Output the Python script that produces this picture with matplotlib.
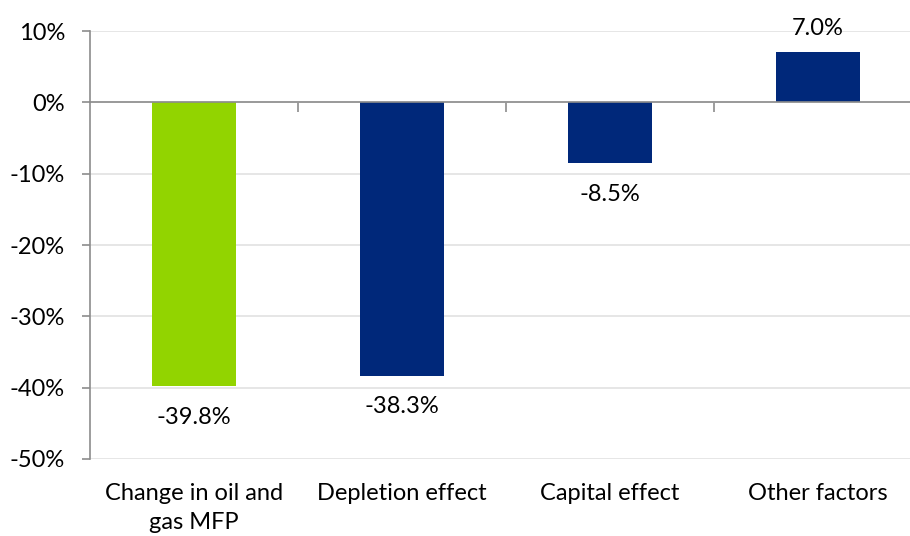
import matplotlib.pyplot as plt
from matplotlib.ticker import PercentFormatter

plt.rcParams['font.family'] = ['Lato', 'DejaVu Sans']
plt.rcParams['axes.unicode_minus'] = False

# data
categories = ['Change in oil and\ngas MFP', 'Depletion effect', 'Capital effect', 'Other factors']
values = [-39.8, -38.3, -8.5, 7.0]
colors = ['#92D400', '#00287A', '#00287A', '#00287A']
labels = ['-39.8%', '-38.3%', '-8.5%', '7.0%']

fig = plt.figure(figsize=(9.1, 5.36), dpi=100)
# axes extends a bit past the right edge, like the original crop
ax = fig.add_axes([90 / 910, 1 - 459 / 536, 832 / 910, 428 / 536])

x = range(len(categories))
ax.bar(x, values, width=0.4, color=colors, zorder=3)

ax.set_xlim(-0.5, 3.5)
ax.set_ylim(-50, 10)
ax.set_yticks(range(-50, 11, 10))
ax.yaxis.set_major_formatter(PercentFormatter(decimals=0))
ax.grid(axis='y', color='#e2e2e2', linewidth=1.2, zorder=0)

for s in ['top', 'right']:
    ax.spines[s].set_visible(False)
ax.spines['left'].set_color('#8c8c8c')
ax.spines['left'].set_linewidth(1.2)
ax.spines['bottom'].set_position(('data', 0))
ax.spines['bottom'].set_color('#8c8c8c')
ax.spines['bottom'].set_linewidth(1.2)
ax.spines['bottom'].set_zorder(4)

ax.tick_params(axis='y', length=6, width=1.2, color='#8c8c8c', pad=12,
               labelsize=17, labelcolor='black')
ax.set_xticks([0.5, 1.5, 2.5])
ax.set_xticklabels([])
ax.tick_params(axis='x', length=7, width=1.2, color='#8c8c8c', direction='out')

# data labels
for i, v in enumerate(values):
    if v < 0:
        ax.annotate(labels[i], (i, v), xytext=(0, -15), textcoords='offset points',
                    ha='center', va='top', fontsize=17)
    else:
        ax.annotate(labels[i], (i, v), xytext=(0, 10), textcoords='offset points',
                    ha='center', va='bottom', fontsize=17)

# category labels under the plot
for i, c in enumerate(categories):
    ax.text(i, -0.056, c, transform=ax.get_xaxis_transform(), ha='center', va='top',
            fontsize=17, linespacing=1.45)

fig.savefig('out.png', dpi=100)
